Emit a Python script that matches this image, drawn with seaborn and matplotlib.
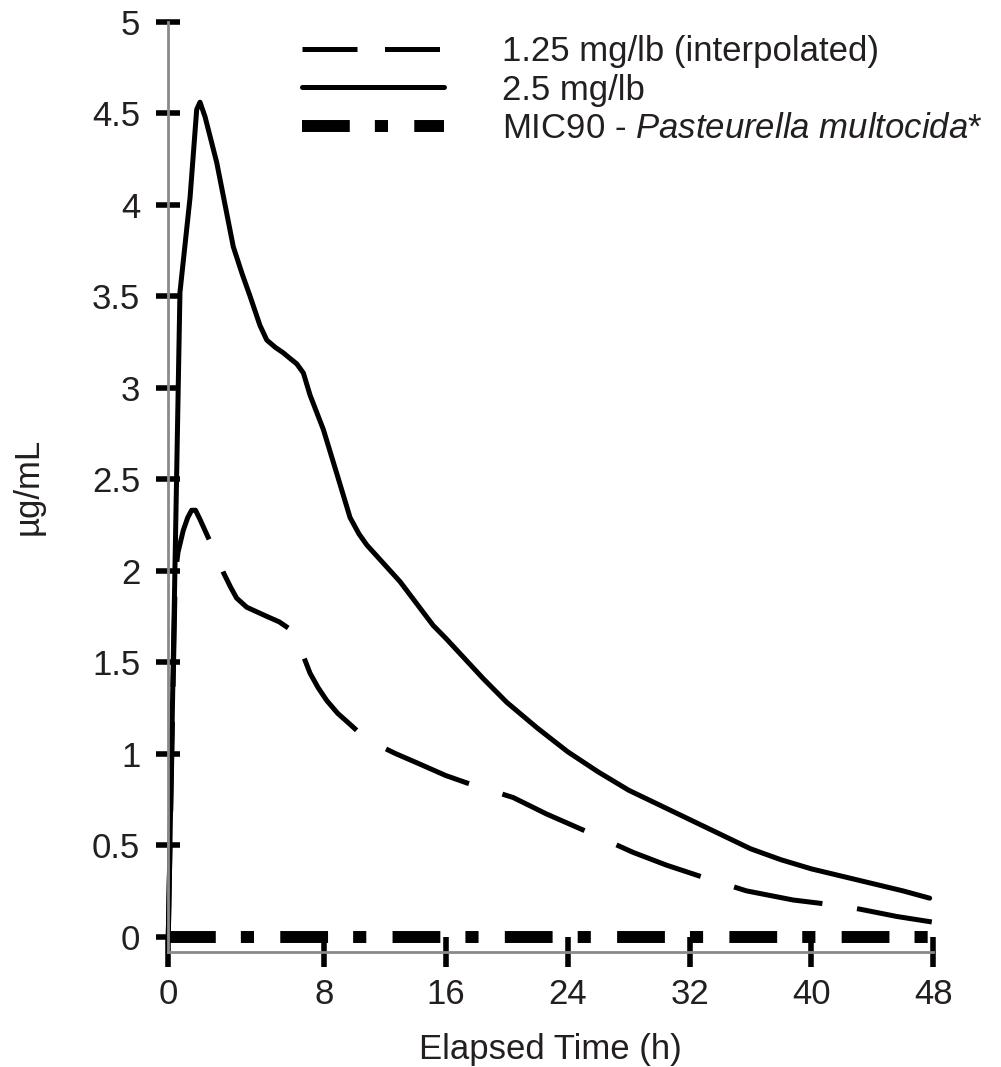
import numpy as np
import matplotlib
matplotlib.use("Agg")
import matplotlib.pyplot as plt
import seaborn as sns

# 1.25 mg/lb (interpolated) - dashed curve
time_125 = [0, 0.36, 0.5, 0.77, 1.0, 1.2, 1.4, 1.63, 1.97, 2.4, 2.83, 3.2, 3.51, 4.03, 5.06, 5.7,
            6.25, 6.5, 6.77, 7.28, 7.7, 8.18, 8.9, 9.71, 10.5, 11.46, 12.7, 14.09, 16.0, 17.37,
            20.42, 22.61, 25.9, 28.3, 30.5, 32.68, 35.73, 38.8, 41.76, 43.18, 45.6, 47.9]
conc_125 = [0, 1.98, 2.1, 2.22, 2.29, 2.33, 2.33, 2.28, 2.2, 2.1, 1.99, 1.91, 1.85, 1.8, 1.75, 1.72,
            1.68, 1.64, 1.58, 1.44, 1.36, 1.29, 1.22, 1.16, 1.1, 1.05, 1.0, 0.95, 0.88, 0.84,
            0.76, 0.67, 0.55, 0.46, 0.39, 0.33, 0.25, 0.2, 0.17, 0.15, 0.11, 0.08]

# 2.5 mg/lb - solid curve
time_25 = [0, 0.6, 1.12, 1.46, 1.63, 1.89, 2.49, 3.34, 3.8, 4.2, 4.71, 5.06, 5.5, 5.91, 6.25,
           6.6, 6.94, 7.28, 7.97, 8.84, 9.71, 10.3, 10.81, 11.9, 12.99, 15.17, 16.0, 18.45, 20.0,
           22.0, 24.0, 26.0, 28.0, 30.0, 32.0, 34.0, 36.0, 38.0, 40.0, 42.0, 44.0, 46.0, 47.76]
conc_25 = [0, 3.52, 4.04, 4.52, 4.56, 4.48, 4.23, 3.77, 3.62, 3.5, 3.34, 3.26, 3.22, 3.19, 3.16,
           3.13, 3.08, 2.96, 2.77, 2.53, 2.29, 2.2, 2.14, 2.04, 1.94, 1.7, 1.63, 1.41, 1.28,
           1.14, 1.01, 0.9, 0.8, 0.72, 0.64, 0.56, 0.48, 0.42, 0.37, 0.33, 0.29, 0.25, 0.21]

# MIC90 - Pasteurella multocida
mic_time = [0, 48]
mic_conc = [0, 0]

x_ticks = [0, 8, 16, 24, 32, 40, 48]
y_ticks = [0, 0.5, 1, 1.5, 2, 2.5, 3, 3.5, 4, 4.5, 5]
y_tick_labels = ["0", "0.5", "1", "1.5", "2", "2.5", "3", "3.5", "4", "4.5", "5"]
series_labels = ["1.25 mg/lb (interpolated)", "2.5 mg/lb",
                 r"MIC90 - $\mathit{Pasteurella\ multocida}$*"]

sns.set_style("ticks")
plt.rcParams["font.family"] = ["Liberation Sans", "DejaVu Sans"]
plt.rcParams["mathtext.fontset"] = "custom"
plt.rcParams["mathtext.rm"] = "Liberation Sans"
plt.rcParams["mathtext.it"] = "Liberation Sans:italic"

text_color = "#231f20"

fig = plt.figure(figsize=(10.01, 10.67), dpi=100)
ax = fig.add_axes([0.1681, 0.1078, 0.7643, 0.8719])

# first 8 h are drawn wider than the rest of the axis
stretch = 1.278


def fwd(x):
    x = np.asarray(x, dtype=float)
    return np.where(x < 8, x * stretch, x + 8 * (stretch - 1))


def inv(v):
    v = np.asarray(v, dtype=float)
    return np.where(v < 8 * stretch, v / stretch, v - 8 * (stretch - 1))


ax.set_xscale("function", functions=(fwd, inv))

sns.lineplot(x=time_125, y=conc_125, ax=ax, color="black", lw=3.6,
             linestyle=(0, (18, 7)), label=series_labels[0], clip_on=False)
sns.lineplot(x=time_25, y=conc_25, ax=ax, color="black", lw=3.6,
             label=series_labels[1], clip_on=False)
sns.lineplot(x=mic_time, y=mic_conc, ax=ax, color="black", lw=8.6,
             linestyle=(0, (4.0, 2.1, 1.1, 2.2)), label=series_labels[2], clip_on=False)

ax.set_xlim(0, 48)
ax.set_ylim(-0.084, 5)
ax.set_xticks(x_ticks)
ax.set_xticklabels([str(t) for t in x_ticks])
ax.set_yticks(y_ticks)
ax.set_yticklabels(y_tick_labels)
ax.minorticks_off()

for side in ["top", "right"]:
    ax.spines[side].set_visible(False)
for side in ["left", "bottom"]:
    ax.spines[side].set_color("#8a8a8a")
    ax.spines[side].set_linewidth(2)

ax.tick_params(axis="y", direction="inout", length=17.3, width=4, color="black", left=True,
               pad=11.5, labelsize=25, labelcolor=text_color)
ax.tick_params(axis="x", direction="inout", length=22.3, width=4, color="black", bottom=True,
               pad=7.5, labelsize=25, labelcolor=text_color)

ax.set_xlabel("Elapsed Time (h)", fontsize=25, color=text_color, labelpad=16)
ax.set_ylabel("µg/mL", fontsize=25, color=text_color, labelpad=34)

leg = ax.legend(loc="upper left", bbox_to_anchor=(0.3017, 0.9675), bbox_transform=fig.transFigure,
                frameon=False, fontsize=25, handlelength=4.1, handletextpad=1.66,
                labelspacing=0.17, borderpad=0, borderaxespad=0)
leg.get_lines()[0].set_dashes([11, 5.5])
for t in leg.get_texts():
    t.set_color(text_color)

fig.savefig("out.png", dpi=100)
